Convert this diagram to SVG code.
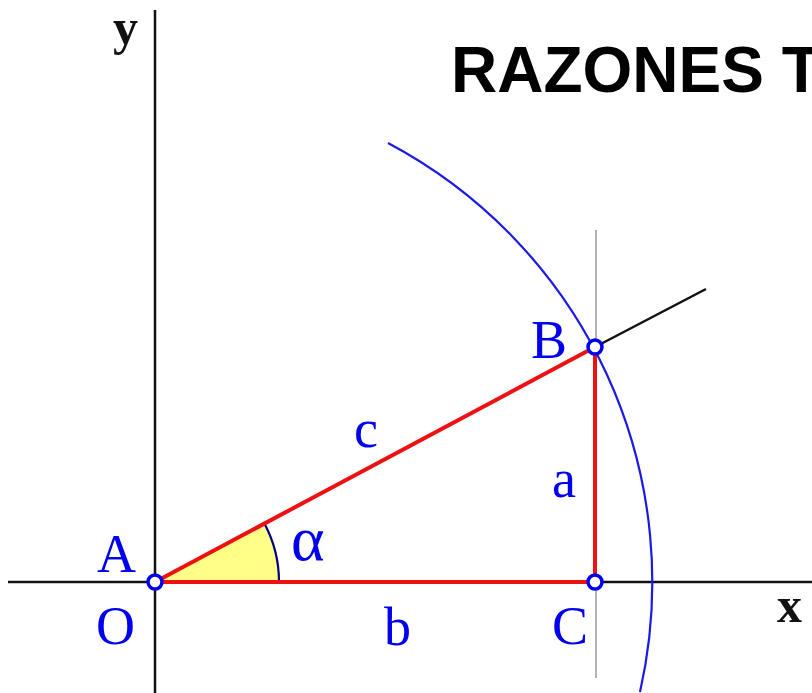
<svg xmlns="http://www.w3.org/2000/svg" width="812" height="693" viewBox="0 0 812 693">
<style>
.lbl{font-family:"Liberation Serif","Times New Roman",serif;font-size:54px;fill:#0000ee}
.ax{font-family:"Liberation Serif","Times New Roman",serif;font-size:50px;font-weight:bold;fill:#111}
.title{font-family:"Liberation Sans",Arial,sans-serif;font-size:64px;font-weight:bold;fill:#000}
.side{stroke:#ee1111;stroke-width:4;fill:none}
.pt{fill:#fff;stroke:#0000ee;stroke-width:3.5}
</style>
<rect width="812" height="693" fill="#fff"/>
<text class="title" x="451" y="92">RAZONES T</text>
<g id="axes" stroke="#111" stroke-width="2.5">
<line x1="155" y1="10" x2="155" y2="693"/>
<line x1="8" y1="582" x2="812" y2="582"/>
</g>
<text class="ax" x="113" y="44">y</text>
<text class="ax" x="777" y="622">x</text>
<g id="connectors">
<line x1="596" y1="230" x2="596" y2="678" stroke="#999" stroke-width="1.5"/>
<line x1="595" y1="347" x2="706" y2="289" stroke="#111" stroke-width="2.5"/>
<path d="M388,143 A497,497 0 0 1 640,692" fill="none" stroke="#1a1ae6" stroke-width="2.2"/>
<path id="wedge" d="M155,582 L279,582 A124,124 0 0 0 264.4,523.6 Z" fill="#ffff88"/>
<path d="M279,582 A124,124 0 0 0 264.4,523.6" fill="none" stroke="#000080" stroke-width="2.2"/>
<line class="side" x1="155" y1="582" x2="595" y2="347"/>
<line class="side" x1="595" y1="347" x2="595" y2="582"/>
<line class="side" x1="155" y1="582" x2="595" y2="582"/>
</g>
<g id="A"><circle class="pt" cx="155" cy="582" r="7"/><text class="lbl" x="97" y="572">A</text><text class="lbl" x="96" y="644">O</text></g>
<g id="B"><circle class="pt" cx="595" cy="347" r="7"/><text class="lbl" x="531" y="358">B</text></g>
<g id="C"><circle class="pt" cx="595" cy="582" r="7"/><text class="lbl" x="552" y="644">C</text></g>
<text class="lbl" x="354" y="447">c</text>
<text class="lbl" x="552" y="497">a</text>
<text class="lbl" x="384" y="645">b</text>
<text class="lbl" x="291" y="560" style="font-size:64px">α</text>
</svg>
